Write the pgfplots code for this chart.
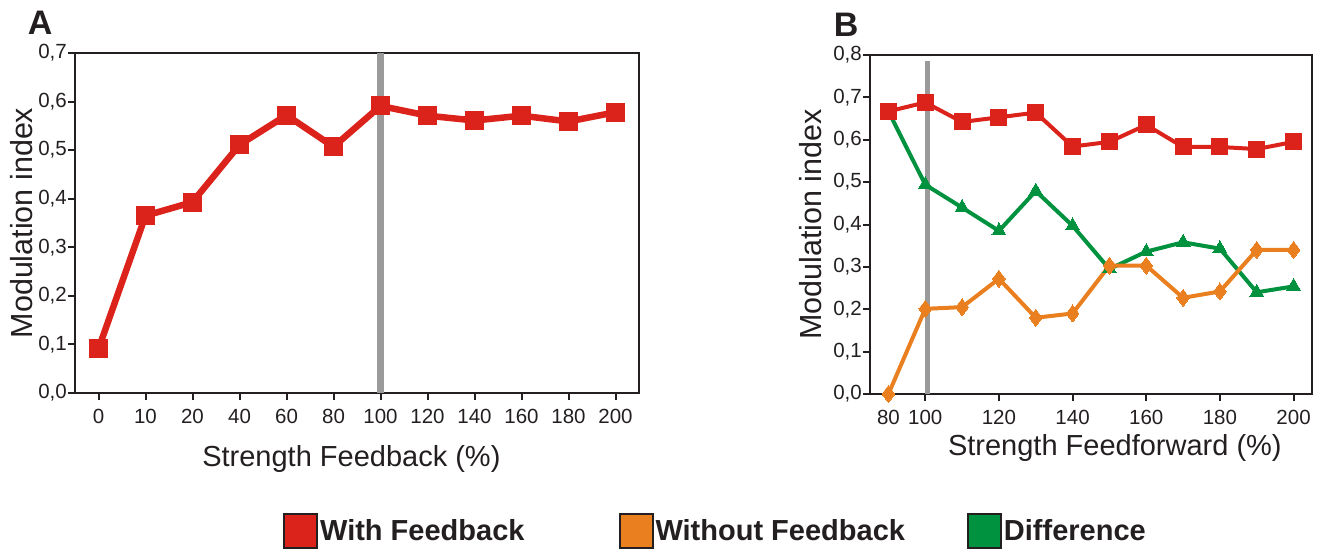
\documentclass[border=0pt]{standalone}
\usepackage{fontspec}
\setmainfont{Liberation Sans}
\usepackage{pgfplots}
\pgfplotsset{compat=1.18}
\definecolor{cred}{HTML}{DC231B}
\definecolor{corange}{HTML}{E97F1E}
\definecolor{cgreen}{HTML}{00923F}
\definecolor{cgray}{HTML}{9A9A9A}
\definecolor{ctext}{HTML}{231F20}
\pgfplotsset{
  myaxis/.style={
    scale only axis, clip=false,
    axis line style={line width=2.2pt, ctext},
    tick style={line width=2pt, ctext},
    tick align=outside, major tick length=7pt,
    xtick pos=bottom, ytick pos=left,
    ticklabel style={font=\fontsize{20.5}{24}\selectfont, text=ctext},
    yticklabel style={inner sep=1pt},
    xticklabel style={inner sep=1pt, yshift=-8pt},
    label style={font=\fontsize{29}{34}\selectfont, text=ctext},
    ylabel style={font=\fontsize{30.5}{36}\selectfont},
    /pgf/number format/use comma,
    /pgf/number format/fixed,
    /pgf/number format/fixed zerofill,
    /pgf/number format/precision=1,
    /pgf/number format/assume math mode=true,
  }
}
\begin{document}
\begin{tikzpicture}[x=1pt,y=1pt]
\useasboundingbox (0,0) rectangle (1321,552);
% Panel A
\begin{axis}[myaxis,
  at={(75pt,159pt)}, anchor=south west,
  width=564pt, height=340pt,
  xmin=-0.5, xmax=11.5, ymin=0, ymax=0.7,
  ytick={0,0.1,0.2,0.3,0.4,0.5,0.6,0.7},
  xtick={0,1,2,3,4,5,6,7,8,9,10,11},
  xticklabels={0,10,20,40,60,80,100,120,140,160,180,200},
  xlabel={Strength Feedback (\%)},
  ylabel={Modulation index},
  xlabel style={at={(axis description cs:0.49,-0.195)}, anchor=center},
  ylabel style={at={(axis description cs:-0.095,0.5)}, anchor=center},
]
\addplot[cgray, line width=7pt, forget plot] coordinates {(6,0) (6,0.7)};
\addplot[cred, line width=6.5pt, mark=square*, mark size=9pt, mark options={solid, line width=0pt}]
coordinates {(0,0.091) (1,0.365) (2,0.393) (3,0.511) (4,0.572) (5,0.507)
 (6,0.591) (7,0.571) (8,0.561) (9,0.571) (10,0.559) (11,0.578)};
\node[anchor=west, font=\fontsize{34}{40}\selectfont\bfseries, text=ctext] at (axis description cs:-0.09,1.09) {A};
\end{axis}
% Panel B
\begin{axis}[myaxis,
  at={(870pt,158pt)}, anchor=south west,
  width=442pt, height=339pt,
  xmin=-0.5, xmax=11.5, ymin=0, ymax=0.8,
  ytick={0,0.1,0.2,0.3,0.4,0.5,0.6,0.7,0.8},
  xtick={0,1,3,5,7,9,11},
  xticklabels={80,100,120,140,160,180,200},
  xlabel={Strength Feedforward (\%)},
  ylabel={Modulation index},
  xlabel style={at={(axis description cs:0.554,-0.158)}, anchor=center},
  ylabel style={at={(axis description cs:-0.134,0.5)}, anchor=center},
  legend columns=3,
  legend style={at={(axis description cs:-1.335,-0.404)}, anchor=west,
    draw=none, fill=none, font=\fontsize{29}{34}\selectfont\bfseries,
    text=ctext,
    /tikz/column 2/.style={column sep=92pt},
    /tikz/column 4/.style={column sep=60pt}},
  legend image code/.code={\draw[#1, draw=ctext, line width=2pt] (0pt,-17pt) rectangle (33pt,17pt);},
]
\addplot[cgray, line width=5pt, forget plot] coordinates {(1.07,0) (1.07,0.785)};
\addplot[cgreen, line width=4pt, mark=triangle*, mark size=8pt, mark options={solid, line width=0pt}, forget plot]
coordinates {(0,0.667) (1,0.494) (2,0.440) (3,0.385) (4,0.479) (5,0.397)
 (6,0.295) (7,0.336) (8,0.358) (9,0.343) (10,0.240) (11,0.254)};
\addplot[corange, line width=4pt, mark=diamond*, mark size=8.5pt, mark options={solid, line width=0pt}, forget plot]
coordinates {(0,0.0) (1,0.201) (2,0.205) (3,0.272) (4,0.180) (5,0.190)
 (6,0.303) (7,0.303) (8,0.227) (9,0.242) (10,0.340) (11,0.340)};
\addplot[cred, line width=4pt, mark=square*, mark size=8pt, mark options={solid, line width=0pt}, forget plot]
coordinates {(0,0.667) (1,0.688) (2,0.642) (3,0.653) (4,0.664) (5,0.584)
 (6,0.595) (7,0.635) (8,0.583) (9,0.583) (10,0.578) (11,0.595)};
\addlegendimage{fill=cred}
\addlegendentry{With Feedback}
\addlegendimage{fill=corange}
\addlegendentry{Without Feedback}
\addlegendimage{fill=cgreen}
\addlegendentry{Difference}
\node[anchor=west, font=\fontsize{34}{40}\selectfont\bfseries, text=ctext] at (axis description cs:-0.09,1.09) {B};
\end{axis}
\end{tikzpicture}
\end{document}
